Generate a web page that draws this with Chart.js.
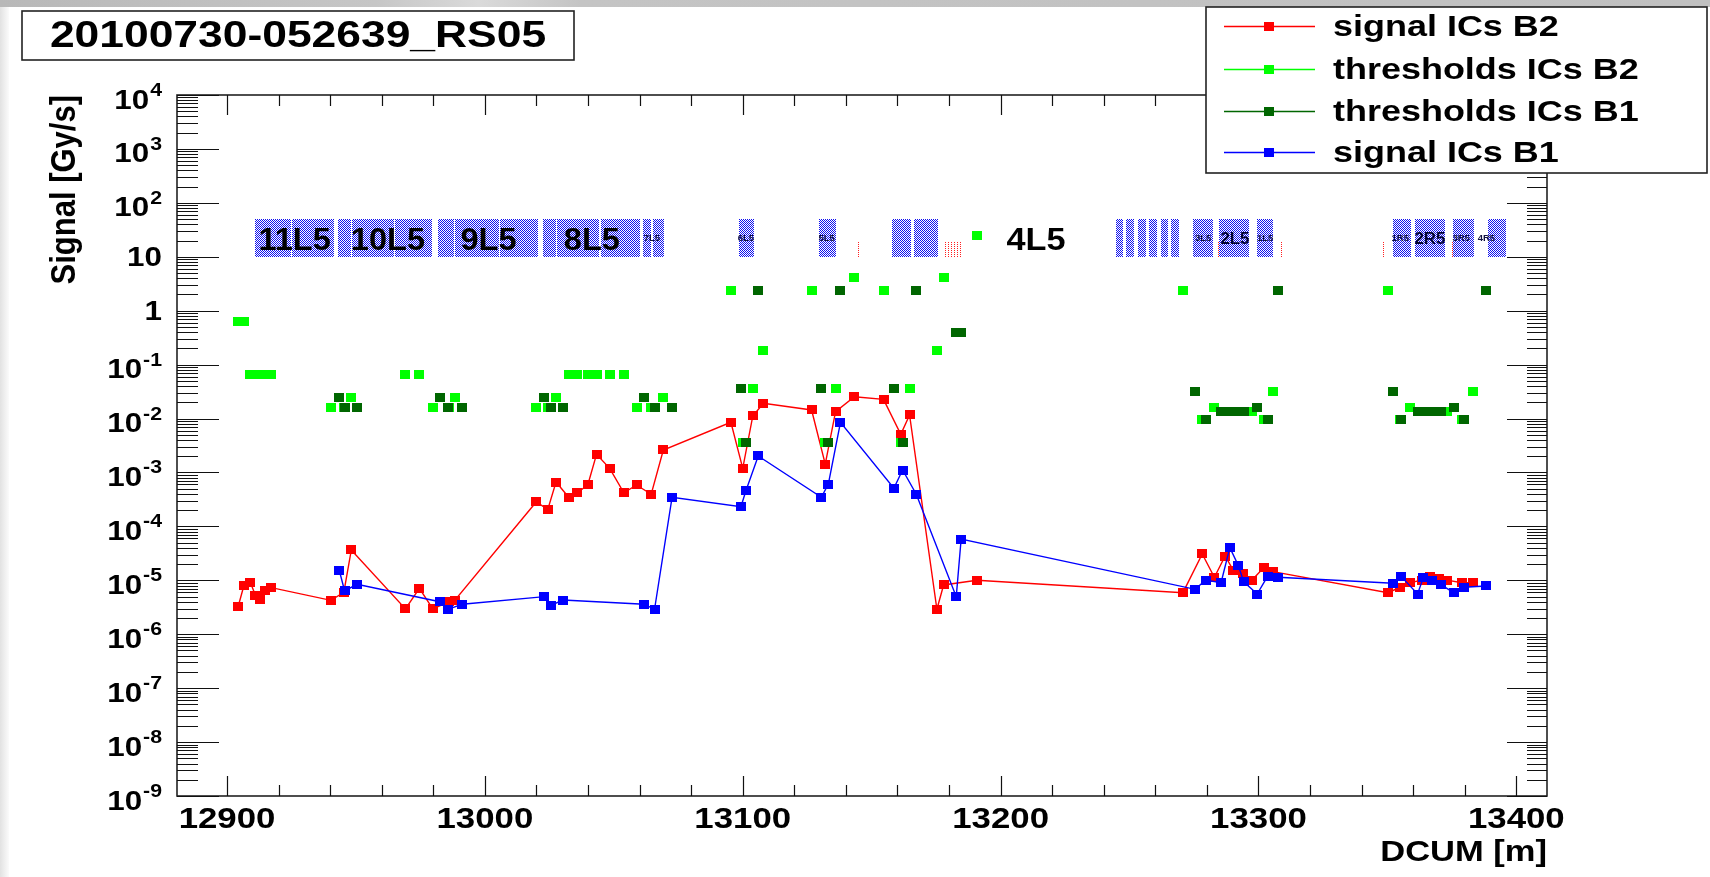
<!DOCTYPE html>
<html>
<head>
<meta charset="utf-8">
<script src="https://cdn.jsdelivr.net/npm/chart.js@4.4.1/dist/chart.umd.min.js"></script>
<style>
html,body{margin:0;padding:0;background:#fff;overflow:hidden}
canvas{display:block}
</style>
</head>
<body>
<canvas id="c" width="1710" height="877"></canvas>
<script>
// ---------------- data ----------------
const chartTitle = '20100730-052639_RS05';
const xTitle = 'DCUM [m]';
const yTitle = 'Signal [Gy/s]';
const seriesNames = ['signal ICs B2', 'thresholds ICs B2', 'thresholds ICs B1', 'signal ICs B1'];

const xMin = 12880.6, xMax = 13411.9;
const yMin = 1e-9, yMax = 1e4;
const xTicks = [12900, 13000, 13100, 13200, 13300, 13400];
const yDecades = [-9, -8, -7, -6, -5, -4, -3, -2, -1, 0, 1, 2, 3, 4];

// Beam 2 ionisation chambers: positions [m], signal and threshold [Gy/s]
const icPosB2 = [12904.3, 12906.5, 12909.0, 12911.0, 12912.9, 12914.9, 12917.2, 12940.3, 12945.3, 12948.2,
  12969.2, 12974.6, 12979.8, 12986.0, 12988.3, 13019.9, 13024.4, 13027.6, 13032.5, 13035.8,
  13039.9, 13043.3, 13048.4, 13053.9, 13058.8, 13064.5, 13069.2, 13095.4, 13100.0, 13103.9,
  13108.0, 13126.7, 13132.0, 13136.0, 13143.3, 13154.6, 13161.3, 13164.7, 13175.3, 13177.9,
  13190.8, 13270.7, 13278.2, 13282.9, 13287.1, 13290.3, 13294.0, 13297.5, 13302.0, 13305.6,
  13350.2, 13355.0, 13358.6, 13363.4, 13366.4, 13369.9, 13373.1, 13378.9, 13383.2];
const signalB2 = [3.24e-6, 7.85e-6, 9.3e-6, 5.27e-6, 4.45e-6, 6.43e-6, 7.3e-6, 4.25e-6, 6.0e-6, 3.65e-5,
  2.94e-6, 7.1e-6, 2.94e-6, 4.0e-6, 4.25e-6, 2.84e-4, 2.07e-4, 6.65e-4, 3.47e-4, 4.2e-4,
  5.86e-4, 2.17e-3, 1.19e-3, 4.2e-4, 5.86e-4, 3.94e-4, 2.61e-3, 8.53e-3, 1.19e-3, 0.01117,
  0.0192, 0.01442, 1.43e-3, 0.01343, 0.0254, 0.0227, 5.1e-3, 0.01164, 2.9e-6, 8.2e-6,
  1.0e-5, 5.9e-6, 3.08e-5, 1.14e-5, 2.82e-5, 1.51e-5, 1.31e-5, 1.01e-5, 1.71e-5, 1.45e-5,
  5.9e-6, 7.43e-6, 9.0e-6, 1.01e-5, 1.2e-5, 1.09e-5, 1.01e-5, 9.0e-6, 9.0e-6];
const thresholdB2 = [0.637, 0.637, 0.0643, 0.0643, 0.0643, 0.0643, 0.0643, 0.0163, 0.0163, 0.0243,
  0.0643, 0.0643, 0.0163, 0.0163, 0.0243, 0.0163, 0.0163, 0.0243, 0.0643, 0.0643,
  0.0643, 0.0643, 0.0643, 0.0643, 0.0163, 0.0163, 0.0243, 2.35, 0.00363, 0.0358,
  0.185, 2.35, 0.00363, 0.0358, 4.05, 2.35, 0.00363, 0.0358, 0.185, 4.05,
  25, 2.35, 0.0096, 0.0163, 0.0133, 0.0133, 0.0133, 0.0133, 0.0096, 0.0311,
  2.35, 0.0096, 0.0163, 0.0133, 0.0133, 0.0133, 0.0133, 0.0096, 0.0311];

// Beam 1 ionisation chambers
const icPosB1 = [12943.6, 12945.6, 12950.4, 12982.5, 12985.7, 12991.2, 13023.1, 13025.8, 13030.3, 13061.8,
  13065.8, 13072.6, 13099.3, 13101.2, 13106.0, 13130.5, 13133.2, 13137.9, 13158.6, 13162.0,
  13167.3, 13182.8, 13184.7, 13275.5, 13279.5, 13285.5, 13288.9, 13292.1, 13294.3, 13299.5,
  13303.6, 13307.6, 13352.2, 13355.4, 13361.7, 13364.0, 13367.4, 13370.9, 13375.7, 13379.6, 13388.1];
const signalB1 = [1.49e-5, 6.34e-6, 8.43e-6, 4.0e-6, 2.9e-6, 3.59e-6, 4.98e-6, 3.48e-6, 4.31e-6, 3.59e-6,
  2.9e-6, 3.47e-4, 2.32e-4, 4.54e-4, 2.02e-3, 3.47e-4, 6.1e-4, 8.53e-3, 5.09e-4, 1.11e-3,
  3.94e-4, 4.98e-6, 5.83e-5, 6.8e-6, 1.01e-5, 9.0e-6, 4.03e-5, 1.92e-5, 9.4e-6, 5.57e-6,
  1.2e-5, 1.14e-5, 8.8e-6, 1.17e-5, 5.57e-6, 1.14e-5, 1.01e-5, 8.2e-6, 5.9e-6, 7.43e-6, 7.85e-6];
const thresholdB1 = [0.0243, 0.0163, 0.0163, 0.0243, 0.0163, 0.0163, 0.0243, 0.0163, 0.0163, 0.0243,
  0.0163, 0.0163, 0.0358, 0.00363, 2.35, 0.0358, 0.00363, 2.35, 0.0358, 0.00363,
  2.35, 0.40, 0.40, 0.0311, 0.0096, 0.0133, 0.0133, 0.0133, 0.0133, 0.0163,
  0.0096, 2.35, 0.0311, 0.0096, 0.0133, 0.0133, 0.0133, 0.0133, 0.0163, 0.0096, 2.35];

// magnet elements (blue boxes), start/end [m], drawn between two signal levels
const magStart = [12910.9, 12925.1, 12943.0, 12948.4, 12965.2, 12981.7, 12988.5, 13005.9, 13022.5, 13027.9,
  13045.0, 13061.4, 13065.3, 13098.6, 13129.7, 13158.0, 13166.5, 13244.8, 13248.7, 13253.4,
  13257.7, 13262.1, 13266.1, 13274.8, 13284.7, 13299.4, 13352.1, 13360.8, 13375.6, 13389.0];
const magEnd = [12925.1, 12941.7, 12948.4, 12965.2, 12979.8, 12988.5, 13005.9, 13021.0, 13027.9, 13044.7,
  13060.5, 13064.7, 13069.8, 13104.7, 13136.7, 13165.5, 13176.1, 13248.0, 13252.2, 13256.9,
  13261.2, 13265.5, 13269.6, 13282.8, 13296.8, 13306.2, 13359.5, 13372.8, 13384.1, 13396.4];
const magLow = 10, magHigh = 50;
// small red elements
const redElStart = [13144.0, 13178.5, 13283.7, 13308.2, 13348.3, 13374.4];
const redElEnd = [13145.2, 13185.6, 13285.0, 13309.0, 13349.1, 13375.7];
const redElLow = 10, redElHigh = 20;
// cell names and their positions [m]
const cellNames = ['11L5', '10L5', '9L5', '8L5', '7L5', '6L5', '5L5', '4L5', '3L5', '2L5', '1L5', '1R5', '2R5', '3R5', '4R5'];
const cellPos = [12926.2, 12962.4, 13001.4, 13041.5, 13064.8, 13101.2, 13132.5, 13213.7, 13278.5, 13290.9, 13302.6, 13355.0, 13366.5, 13378.6, 13388.4];

// ---------------- styling ----------------
const FONT = '"Liberation Sans", Arial, Helvetica, sans-serif';
const COL = { red: '#ff0000', light: '#00ff00', dark: '#006600', blue: '#0000ff' };

function marker(color) {
  const c = document.createElement('canvas');
  c.width = 10; c.height = 9;
  const g = c.getContext('2d');
  g.fillStyle = color; g.fillRect(0, 0, 10, 9);
  return c;
}
const mk = { red: marker(COL.red), light: marker(COL.light), dark: marker(COL.dark), blue: marker(COL.blue) };

function makePattern(ctx, w, h, color, dots, bg) {
  const c = document.createElement('canvas');
  c.width = w; c.height = h;
  const g = c.getContext('2d');
  if (bg) { g.fillStyle = bg; g.fillRect(0, 0, w, h); }
  g.fillStyle = color;
  dots.forEach(d => g.fillRect(d[0], d[1], 1, 1));
  return ctx.createPattern(c, 'repeat');
}

function txt(ctx, s, x, y, size, align, sx, color) {
  ctx.save();
  ctx.translate(x, y);
  ctx.scale(sx, 1);
  ctx.font = 'bold ' + size + 'px ' + FONT;
  ctx.textAlign = align;
  ctx.textBaseline = 'alphabetic';
  ctx.fillStyle = color || '#000';
  ctx.fillText(s, 0, 0);
  ctx.restore();
}
function textW(ctx, s, size, sx) {
  ctx.save();
  ctx.font = 'bold ' + size + 'px ' + FONT;
  const w = ctx.measureText(s).width * sx;
  ctx.restore();
  return w;
}

const rootPlugin = {
  id: 'rootStyle',
  beforeDraw(chart) {
    const ctx = chart.ctx;
    ctx.save();
    ctx.fillStyle = '#fff';
    ctx.fillRect(0, 0, chart.width, chart.height);
    const g = ctx.createLinearGradient(0, 0, chart.width, 0);
    g.addColorStop(0, '#b8b8b8'); g.addColorStop(0.22, '#c6c6c6'); g.addColorStop(0.28, '#dadada');
    g.addColorStop(0.34, '#c4c4c4'); g.addColorStop(1, '#c0c0c0');
    ctx.fillStyle = g;
    ctx.fillRect(0, 0, chart.width, 7);
    const g2 = ctx.createLinearGradient(0, 0, 9, 0);
    g2.addColorStop(0, '#e2e2e2'); g2.addColorStop(1, '#fbfbfb');
    ctx.fillStyle = g2;
    ctx.fillRect(0, 7, 9, chart.height - 7);
    ctx.restore();
  },
  beforeDatasetsDraw(chart) {
    const ctx = chart.ctx, xs = chart.scales.x, ys = chart.scales.y;
    ctx.save();
    const bluePat = makePattern(ctx, 2, 2, '#1010f0', [[0, 0], [1, 1]], '#ffffff');
    const redPat = makePattern(ctx, 3, 2, '#ff2020', [[0, 0]], null);
    const yt = Math.round(ys.getPixelForValue(magHigh)), yb = Math.round(ys.getPixelForValue(magLow));
    ctx.fillStyle = bluePat;
    for (let i = 0; i < magStart.length; i++) {
      const x1 = Math.round(xs.getPixelForValue(magStart[i]));
      const x2 = Math.round(xs.getPixelForValue(magEnd[i]));
      ctx.fillRect(x1, yt, Math.max(1, x2 - x1 - 1), yb - yt);
    }
    const rt = Math.round(ys.getPixelForValue(redElHigh)), rb = Math.round(ys.getPixelForValue(redElLow));
    ctx.fillStyle = redPat;
    for (let i = 0; i < redElStart.length; i++) {
      const x1 = Math.round(xs.getPixelForValue(redElStart[i]));
      const x2 = Math.round(xs.getPixelForValue(redElEnd[i]));
      ctx.fillRect(x1, rt, Math.max(2, x2 - x1), rb - rt);
    }
    // cell labels
    const yc = ys.getPixelForValue(Math.sqrt(magLow * magHigh));
    const big = ['11L5', '10L5', '9L5', '8L5'];
    const mid = ['2L5', '2R5'];
    for (let i = 0; i < cellNames.length; i++) {
      const n = cellNames[i], x = xs.getPixelForValue(cellPos[i]);
      if (n === '4L5') txt(ctx, n, x, yc + 12, 32, 'center', 1.07, '#000');
      else if (big.includes(n)) txt(ctx, n, x, yc + 12, 31, 'center', 1.05, '#000');
      else if (mid.includes(n)) txt(ctx, n, x, yc + 6, 16, 'center', 1.05, '#000030');
      else txt(ctx, n, x, yc + 3.5, 9, 'center', 1.05, '#101040');
    }
    ctx.restore();
  },
  afterDatasetsDraw(chart) {
    const ctx = chart.ctx, xs = chart.scales.x, ys = chart.scales.y, a = chart.chartArea;
    ctx.save();
    // frame
    ctx.strokeStyle = '#222';
    ctx.lineWidth = 1.6;
    ctx.strokeRect(a.left, a.top, a.right - a.left, a.bottom - a.top);
    // ticks
    ctx.lineWidth = 1.2;
    ctx.strokeStyle = '#111';
    ctx.beginPath();
    const step = 20;
    for (let v = Math.ceil(xMin / step) * step; v <= xMax; v += step) {
      const x = Math.round(xs.getPixelForValue(v)) + 0.5;
      const major = xTicks.includes(v);
      const L = major ? 20 : 11;
      ctx.moveTo(x, a.bottom); ctx.lineTo(x, a.bottom - L);
      ctx.moveTo(x, a.top); ctx.lineTo(x, a.top + L);
    }
    for (let k = yDecades[0]; k <= yDecades[yDecades.length - 1]; k++) {
      for (let m = 1; m <= 9; m++) {
        if (k === yDecades[yDecades.length - 1] && m > 1) break;
        const v = m * Math.pow(10, k);
        const y = Math.round(ys.getPixelForValue(v)) + 0.5;
        const major = m === 1;
        ctx.moveTo(a.left, y); ctx.lineTo(a.left + (major ? 42 : 21), y);
        ctx.moveTo(a.right, y); ctx.lineTo(a.right - (major ? 40 : 20), y);
      }
    }
    ctx.stroke();
    // x tick labels
    xTicks.forEach(v => {
      txt(ctx, String(v), xs.getPixelForValue(v), a.bottom + 32, 30, 'center', 1.16);
    });
    // y tick labels
    const xr = a.left - 15;
    yDecades.forEach(k => {
      const y = ys.getPixelForValue(Math.pow(10, k));
      if (k === 0 || k === 1) {
        txt(ctx, k === 0 ? '1' : '10', xr, y + 9.5, 28, 'right', 1.12);
      } else {
        const e = String(k);
        const we = textW(ctx, e, 19, 1.12);
        txt(ctx, '10', xr - we - 1, y + 13.5, 28, 'right', 1.12);
        txt(ctx, e, xr - we, y + 1, 19, 'left', 1.12);
      }
    });
    // axis titles
    txt(ctx, xTitle, a.right, a.bottom + 65, 30, 'right', 1.15);
    ctx.save();
    ctx.translate(75, a.top);
    ctx.scale(1.15, 1);
    ctx.rotate(-Math.PI / 2);
    ctx.font = 'bold 31px ' + FONT;
    ctx.textAlign = 'right';
    ctx.fillStyle = '#000';
    ctx.fillText(yTitle, 0, 0);
    ctx.restore();
    ctx.restore();
  },
  afterDraw(chart) {
    const ctx = chart.ctx;
    ctx.save();
    // title box
    ctx.fillStyle = '#fff';
    ctx.fillRect(22, 11, 552, 49);
    ctx.strokeStyle = '#222';
    ctx.lineWidth = 1.6;
    ctx.strokeRect(22, 11, 552, 49);
    txt(ctx, chartTitle, 298, 47, 37, 'center', 1.2);
    // legend
    ctx.fillStyle = '#fff';
    ctx.fillRect(1206, 7, 501, 166);
    ctx.strokeRect(1206, 7, 501, 166);
    const cols = [COL.red, COL.light, COL.dark, COL.blue];
    const mks = [mk.red, mk.light, mk.dark, mk.blue];
    const base = [36, 79, 121, 162];
    for (let i = 0; i < 4; i++) {
      const ly = base[i] - 9.5;
      ctx.strokeStyle = cols[i];
      ctx.lineWidth = 1.5;
      ctx.beginPath(); ctx.moveTo(1224, ly); ctx.lineTo(1315, ly); ctx.stroke();
      ctx.drawImage(mks[i], 1264, Math.round(ly - 4.5));
      txt(ctx, seriesNames[i], 1333, base[i], 29, 'left', 1.24);
    }
    ctx.restore();
  }
};

const pts = (xs, ys) => xs.map((x, i) => ({ x: x, y: ys[i] }));

new Chart(document.getElementById('c'), {
  type: 'scatter',
  data: {
    datasets: [
      { label: seriesNames[3], data: pts(icPosB1, signalB1), showLine: true, borderColor: COL.blue, borderWidth: 1.4,
        pointStyle: mk.blue, pointRadius: 5, pointHoverRadius: 5, tension: 0, fill: false },
      { label: seriesNames[2], data: pts(icPosB1, thresholdB1), showLine: false,
        pointStyle: mk.dark, pointRadius: 5, pointHoverRadius: 5 },
      { label: seriesNames[1], data: pts(icPosB2, thresholdB2), showLine: false,
        pointStyle: mk.light, pointRadius: 5, pointHoverRadius: 5 },
      { label: seriesNames[0], data: pts(icPosB2, signalB2), showLine: true, borderColor: COL.red, borderWidth: 1.4,
        pointStyle: mk.red, pointRadius: 5, pointHoverRadius: 5, tension: 0, fill: false }
    ]
  },
  options: {
    responsive: false,
    animation: false,
    events: [],
    layout: { padding: { left: 177, top: 95, right: 163, bottom: 81 } },
    scales: {
      x: { type: 'linear', min: xMin, max: xMax, display: false },
      y: { type: 'logarithmic', min: yMin, max: yMax, display: false }
    },
    plugins: { legend: { display: false }, tooltip: { enabled: false }, title: { display: false } }
  },
  plugins: [rootPlugin]
});
</script>
</body>
</html>
